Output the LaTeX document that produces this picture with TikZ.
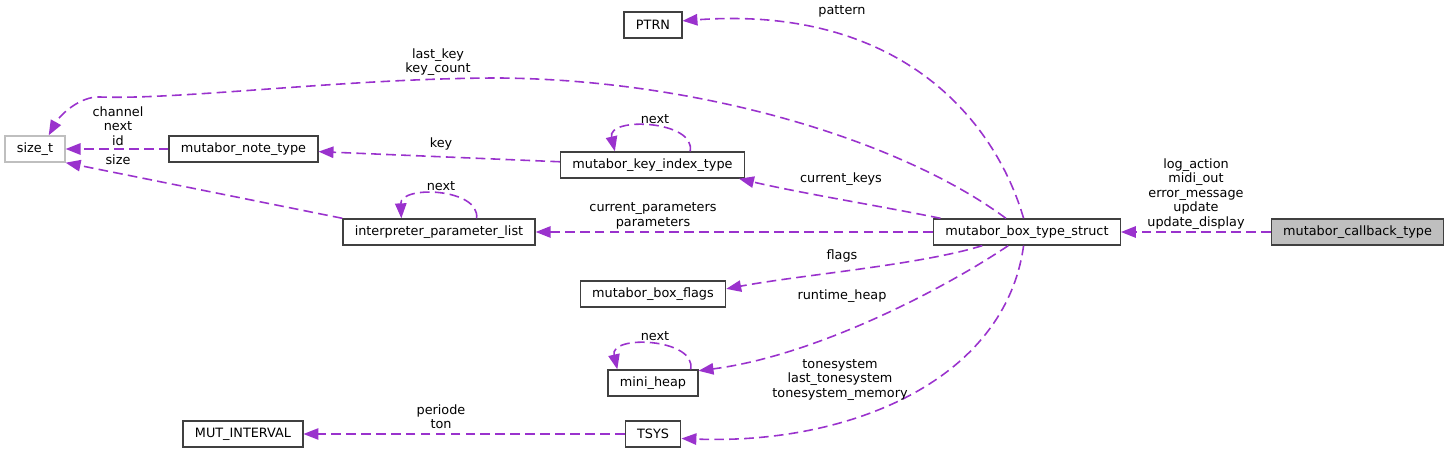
\documentclass[tikz,border=0pt]{standalone}
\usepackage{fontspec}
\setmainfont{DejaVu Sans}
\usetikzlibrary{arrows.meta}
\definecolor{edgepurple}{HTML}{9A32CD}
\definecolor{boxgray}{HTML}{BFBFBF}

\begin{document}
\begin{tikzpicture}[x=0.02cm, y=-0.02cm,
  cls/.style={draw=black!75, line width=0.8pt, inner xsep=6.7pt, minimum height=0.52cm, font=\fontsize{7.3}{8.2}\selectfont},
  ext/.style={cls, draw=boxgray},
  lbl/.style={align=center, inner sep=0pt, font=\fontsize{7.3}{8.2}\selectfont},
  uses/.style={-{Triangle[length=8.5pt,width=6.5pt,fill=edgepurple]}, draw=edgepurple, line width=0.9pt, dash pattern=on 5.5pt off 3pt}]

\useasboundingbox (0,0) rectangle (1451,452);

% Draw the classes
\node[cls, fill=boxgray] (callback) at (1357.5,232) {mutabor\_callback\_type};
\node[cls] (bts) at (1027,232) {mutabor\_box\_type\_struct};
\node[cls] (ptrn) at (653,25) {PTRN};
\node[ext] (sizet) at (35,149) {size\_t};
\node[cls] (note) at (243.5,149) {mutabor\_note\_type};
\node[cls] (kidx) at (652.5,165) {mutabor\_key\_index\_type};
\node[cls] (interp) at (439,232) {interpreter\_parameter\_list};
\node[cls] (flags) at (653,294) {mutabor\_box\_flags};
\node[cls] (heap) at (653,383) {mini\_heap};
\node[cls] (mut) at (243,434) {MUT\_INTERVAL};
\node[cls] (tsys) at (653,434) {TSYS};

% Straight member links
\draw[uses] (callback.west) -- (bts.east);
\draw[uses] (bts.west) -- (interp.east);
\draw[uses] (note.west) -- (sizet.east);
\draw[uses] (tsys.west) -- (mut.east);
\draw[uses] (kidx.178) -- (note.-2);
\draw[uses] (interp.north west) -- (sizet.south east);

% Curved links out of mutabor_box_type_struct
\draw[uses] (bts.104) .. controls (995,120) and (900,5) .. (ptrn.8);
\draw[uses] (bts.147) .. controls (900,140) and (700,80) .. (500,78)
    .. controls (350,78) and (180,100) .. (100,97)
    .. controls (80,96) and (60,115) .. (sizet.45);
\draw[uses] (bts.171) .. controls (880,206) and (800,193) .. (kidx.-9);
\draw[uses] (bts.197) .. controls (920,265) and (800,275) .. (flags.4);
\draw[uses] (bts.216) .. controls (950,285) and (820,355) .. (heap.15);
\draw[uses] (bts.256) .. controls (1005,380) and (850,445) .. (tsys.-9);

% Self links
\foreach \n/\r/\l in {kidx/20/160, heap/20/159}
{
    \draw[uses] (\n.\r) .. controls +(6,-31) and +(-8,-35) .. (\n.\l);
}
\draw[uses] (interp.20) .. controls (480,188) and (400,185) .. (interp.160);

% Link labels
\node[lbl] (lpattern) at (842,11) {pattern};
\node[lbl] (llastkey) at (438,62) {last\_key\\key\_count};
\node[lbl] (lchannel) at (118,126) {channel\\next\\id};
\node[lbl] (lkey) at (441,144) {key};
\node[lbl] (lkidxnext) at (655,119) {next};
\node[lbl] (lcurkeys) at (841,179) {current\_keys};
\node[lbl] (lsize) at (118,160) {size};
\node[lbl] (linterpnext) at (441,186) {next};
\node[lbl] (lparams) at (653,216) {current\_parameters\\parameters};
\node[lbl] (lflags) at (842,256) {flags};
\node[lbl] (lheap) at (842,296) {runtime\_heap};
\node[lbl] (lheapnext) at (655,336) {next};
\node[lbl] (ltonesys) at (840,380) {tonesystem\\last\_tonesystem\\tonesystem\_memory};
\node[lbl] (lperiode) at (441,417) {periode\\ton};
\node[lbl] (lcallback) at (1196,194) {log\_action\\midi\_out\\error\_message\\update\\update\_display};
\end{tikzpicture}
\end{document}
